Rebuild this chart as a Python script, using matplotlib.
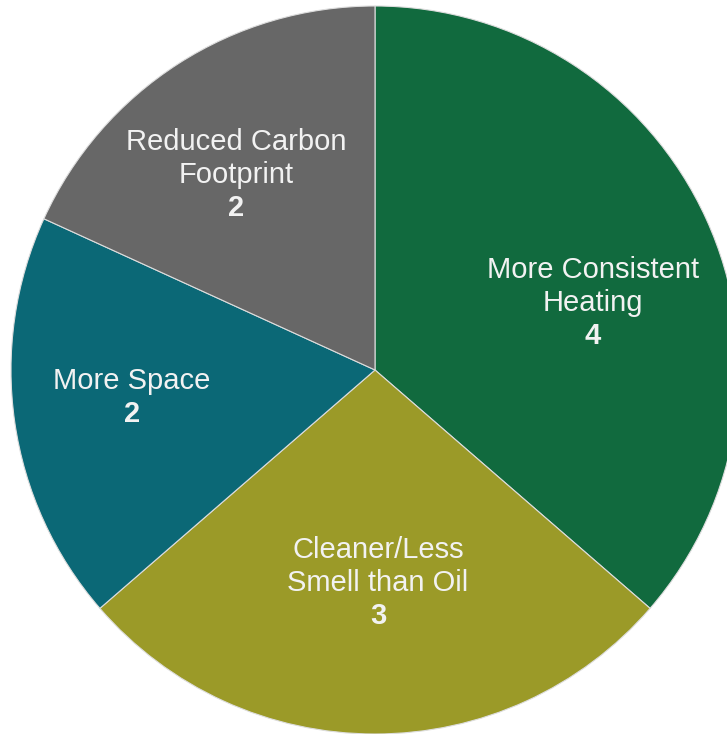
import matplotlib
matplotlib.use("Agg")
import matplotlib.pyplot as plt

# reasons for switching, counts per category (clockwise from 12 o'clock)
names = ["More Consistent\nHeating", "Cleaner/Less\nSmell than Oil", "More Space", "Reduced Carbon\nFootprint"]
counts = [4, 3, 2, 2]
colors = ["#116a3e", "#9b9a28", "#0b6876", "#676767"]

# label anchor points in pixel space (x, y from top of first line)
label_xy = [(593, 270), (378, 550), (132, 381), (236, 142)]

W, H = 727, 734
LINE = 33  # px between text lines
fig = plt.figure(figsize=(W / 100, H / 100), dpi=100)
ax = fig.add_axes([0, 0, 1, 1])

ax.pie(counts, colors=colors, startangle=90, counterclock=False,
       center=(375, H - 370), radius=364,
       wedgeprops=dict(edgecolor="#dddddd", linewidth=0.8))

# pie() resets the limits, so set pixel space afterwards
ax.set_xlim(0, W)
ax.set_ylim(0, H)
ax.set_aspect("equal")
ax.axis("off")

for name, n, (x, y) in zip(names, counts, label_xy):
    lines = name.split("\n")
    for i, line in enumerate(lines):
        ax.text(x, H - y - i * LINE, line, ha="center", va="center",
                color="#f2f2f2", fontsize=21, family="Liberation Sans")
    ax.text(x, H - y - len(lines) * LINE, str(n), ha="center", va="center",
            color="#f2f2f2", fontsize=21, fontweight="bold", family="Liberation Sans")

fig.savefig("out.png", dpi=100)
